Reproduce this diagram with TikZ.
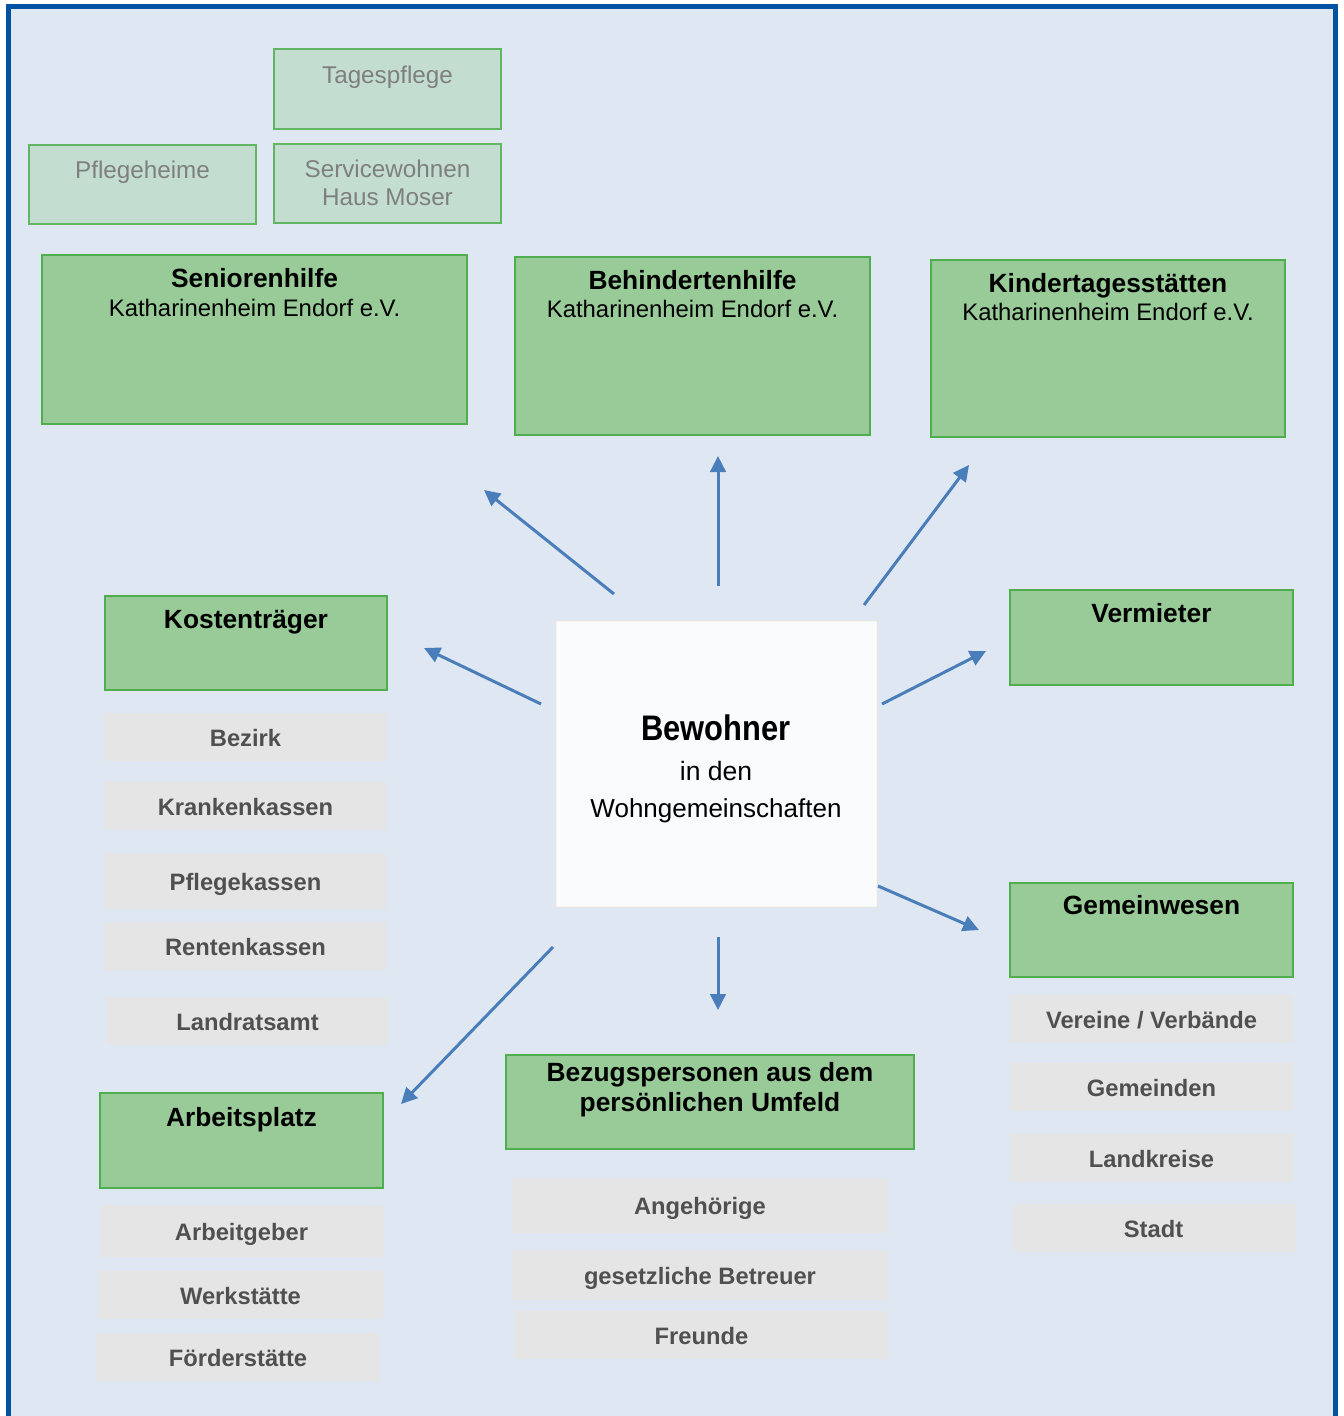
\documentclass[tikz,border=0pt]{standalone}
\usepackage{fontspec}
\setmainfont{Liberation Sans}
\newfontfamily\narrowfont[FakeStretch=0.87]{Liberation Sans}
\usetikzlibrary{positioning,arrows.meta}

\definecolor{bgblue}{HTML}{DFE7F2}
\definecolor{frameblue}{HTML}{0052A3}
\definecolor{boxgreen}{HTML}{98CB98}
\definecolor{linegreen}{HTML}{4FAF4F}
\definecolor{palegreen}{HTML}{C3DED0}
\definecolor{palegray}{HTML}{E5E5E5}
\definecolor{darktext}{HTML}{505050}
\definecolor{lighttext}{HTML}{7F7F7F}
\definecolor{arrowblue}{HTML}{4A7EBB}
\definecolor{centerfill}{HTML}{F9FBFD}
\definecolor{centerline}{HTML}{FBF5E8}

\tikzset{
  bigbox/.style={draw=linegreen, line width=1.1pt, fill=boxgreen},
  smallbox/.style={draw=linegreen!90, line width=1.1pt, fill=palegreen},
  listbox/.style={fill=palegray, inner sep=0pt, minimum width=5.66cm, minimum height=0.96cm,
    text=darktext, text height=1.05em, text depth=0pt, font=\bfseries\fontsize{13.5}{16}\selectfont},
  boxtitle/.style={inner sep=0pt, align=center, font=\fontsize{13.6}{16.5}\selectfont},
  oldtitle/.style={inner sep=0pt, align=center, text=lighttext, font=\fontsize{13.8}{15.9}\selectfont},
  link/.style={arrowblue, line width=1.7pt, -{Triangle[length=0.32cm,width=0.31cm]}}
}
\newcommand{\headline}[1]{\textbf{\fontsize{15}{16.5}\selectfont #1}}

\begin{document}
\begin{tikzpicture}[x=0.02cm, y=-0.02cm]
\useasboundingbox (0,0) rectangle (1343,1416);

% background and frame
\fill[bgblue] (9,7) rectangle (1336,1420);
\draw[frameblue, line width=0.1cm] (8.5,1430) -- (8.5,6.5) -- (1335.5,6.5) -- (1335.5,1430);

% former offers
\node[smallbox, minimum width=4.54cm, minimum height=1.6cm] (tages) at (387.5,89) {};
\node[oldtitle, below=0.35cm of tages.north] (tagesT) {Tagespflege};
\node[smallbox, minimum width=4.54cm, minimum height=1.58cm] (pflege) at (142.5,184.5) {};
\node[oldtitle, below=0.33cm of pflege.north] (pflegeT) {Pflegeheime};
\node[smallbox, minimum width=4.54cm, minimum height=1.58cm] (service) at (387.5,183.5) {};
\node[oldtitle, below=0.33cm of service.north] (serviceT) {Servicewohnen\\Haus Moser};

% the three branches
\node[bigbox, minimum width=8.5cm, minimum height=3.38cm] (senior) at (254.5,339.5) {};
\node[boxtitle, below=0.28cm of senior.north] (seniorT) {\headline{Seniorenhilfe}\\Katharinenheim Endorf e.V.};
\node[bigbox, minimum width=7.1cm, minimum height=3.56cm] (behind) at (692.5,346) {};
\node[boxtitle, below=0.27cm of behind.north] (behindT) {\headline{Behindertenhilfe}\\Katharinenheim Endorf e.V.};
\node[bigbox, minimum width=7.08cm, minimum height=3.54cm] (kita) at (1108,348.5) {};
\node[boxtitle, below=0.27cm of kita.north] (kitaT) {\headline{Kindertagesstätten}\\Katharinenheim Endorf e.V.};

% resident
\node[fill=centerfill, draw=centerline, line width=0.5pt, minimum width=6.4cm, minimum height=5.7cm] (bew) at (716,763.5) {};
\node[anchor=base, font=\narrowfont\bfseries\fontsize{20.2}{24}\selectfont] (bewA) at (716,740) {Bewohner};
\node[anchor=base, font=\fontsize{15.1}{18}\selectfont] (bewB) at (716,780) {in den};
\node[anchor=base, font=\fontsize{14.8}{18}\selectfont] (bewC) at (716,817) {Wohngemeinschaften};

% Kostentraeger
\node[bigbox, minimum width=5.64cm, minimum height=1.88cm] (kosten) at (246,643) {};
\node[boxtitle, below=0.29cm of kosten.north] (kostenT) {\headline{Kostenträger}};
\node[listbox] (bezirk) at (245.5,737) {Bezirk};
\node[listbox] (kranken) at (245.5,806) {Krankenkassen};
\node[listbox, minimum height=1.12cm] (pkassen) at (245.5,881) {Pflegekassen};
\node[listbox] (renten) at (245.5,946) {Rentenkassen};
\node[listbox, minimum width=5.62cm] (landrat) at (247.5,1021) {Landratsamt};

% Vermieter
\node[bigbox, minimum width=5.66cm, minimum height=1.9cm] (vermieter) at (1151.5,637.5) {};
\node[boxtitle, below=0.29cm of vermieter.north] (vermieterT) {\headline{Vermieter}};

% Gemeinwesen
\node[bigbox, minimum width=5.66cm, minimum height=1.88cm] (gemein) at (1151.5,930) {};
\node[boxtitle, below=0.27cm of gemein.north] (gemeinT) {\headline{Gemeinwesen}};
\node[listbox] (vereine) at (1151.5,1019) {Vereine / Verbände};
\node[listbox] (gemeinden) at (1151.5,1087) {Gemeinden};
\node[listbox] (landkreise) at (1151.5,1158) {Landkreise};
\node[listbox] (stadt) at (1153.5,1228) {Stadt};

% Arbeitsplatz
\node[bigbox, minimum width=5.66cm, minimum height=1.9cm] (arbeit) at (241.5,1140.5) {};
\node[boxtitle, below=0.29cm of arbeit.north] (arbeitT) {\headline{Arbeitsplatz}};
\node[listbox, minimum height=1.04cm] (arbeitgeber) at (241.5,1231) {Arbeitgeber};
\node[listbox, minimum width=5.7cm] (werk) at (240.5,1295) {Werkstätte};
\node[listbox, minimum width=5.68cm] (foerder) at (238,1357) {Förderstätte};

% Bezugspersonen
\node[bigbox, minimum width=8.16cm, minimum height=1.88cm] (bezug) at (710,1102) {};
\node[boxtitle, below=0.15cm of bezug.north, font=\bfseries\fontsize{15}{17.6}\selectfont] (bezugT) {Bezugspersonen aus dem\\persönlichen Umfeld};
\node[listbox, minimum width=7.52cm, minimum height=1.1cm] (angeh) at (700,1205.5) {Angehörige};
\node[listbox, minimum width=7.52cm, minimum height=1.0cm] (betreuer) at (700,1275) {gesetzliche Betreuer};
\node[listbox, minimum width=7.46cm] (freunde) at (701.5,1335) {Freunde};

% arrows
\coordinate (s1) at (614,594);  \coordinate (e1) at (484,490);
\coordinate (s2) at (718,586);  \coordinate (e2) at (718,456);
\coordinate (s3) at (864,605);  \coordinate (e3) at (969,465);
\coordinate (s4) at (541,704);  \coordinate (e4) at (424,648);
\coordinate (s5) at (882,704);  \coordinate (e5) at (986,651);
\coordinate (s6) at (878,886);  \coordinate (e6) at (979,930);
\coordinate (s7) at (718,937);  \coordinate (e7) at (718,1010);
\coordinate (s8) at (553,947);  \coordinate (e8) at (401,1104);
\foreach \i in {1,...,8}
  \draw[link] (s\i) -- (e\i);
\end{tikzpicture}
\end{document}
